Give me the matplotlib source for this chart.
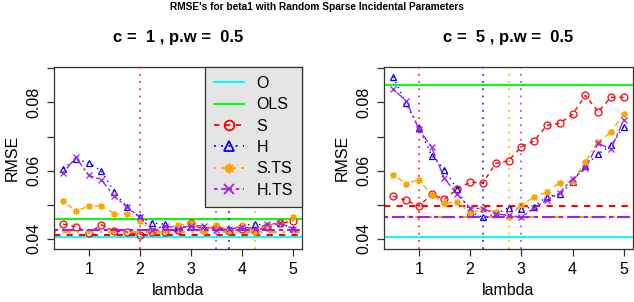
import matplotlib.pyplot as plt
from matplotlib.lines import Line2D

plt.rcParams['font.family'] = ['Liberation Sans', 'DejaVu Sans']

lam = [0.5, 0.75, 1.0, 1.25, 1.5, 1.75, 2.0, 2.25, 2.5, 2.75, 3.0,
       3.25, 3.5, 3.75, 4.0, 4.25, 4.5, 4.75, 5.0]

# panel 1: c = 1
o_1 = 0.0406
ols_1 = 0.0458
s_1 = [0.0443, 0.0435, 0.0417, 0.0441, 0.0422, 0.0420, 0.0411, 0.0420, 0.0420, 0.0425,
       0.0445, 0.0425, 0.0435, 0.0422, 0.0428, 0.0422, 0.0435, 0.0445, 0.0452]
h_1 = [0.0606, 0.0633, 0.0623, 0.0599, 0.0537, 0.0493, 0.0463, 0.0447, 0.0442, 0.0432,
       0.0438, 0.0430, 0.0435, 0.0425, 0.0438, 0.0444, 0.0438, 0.0446, 0.0430]
sts_1 = [0.0510, 0.0481, 0.0496, 0.0496, 0.0474, 0.0474, 0.0451, 0.0424, 0.0427, 0.0440,
         0.0445, 0.0424, 0.0441, 0.0424, 0.0441, 0.0421, 0.0440, 0.0445, 0.0465]
hts_1 = [0.0594, 0.0639, 0.0586, 0.0573, 0.0525, 0.0493, 0.0463, 0.0427, 0.0438, 0.0430,
         0.0438, 0.0438, 0.0425, 0.0428, 0.0435, 0.0430, 0.0442, 0.0446, 0.0430]

# panel 2: c = 5
o_2 = 0.0406
ols_2 = 0.0852
s_2 = [0.0525, 0.0513, 0.0496, 0.0530, 0.0516, 0.0546, 0.0566, 0.0564, 0.0621, 0.0629,
       0.0670, 0.0687, 0.0733, 0.0739, 0.0765, 0.0821, 0.0773, 0.0815, 0.0815]
h_2 = [0.0875, 0.0797, 0.0726, 0.0644, 0.0603, 0.0545, 0.0479, 0.0463, 0.0473, 0.0491,
       0.0488, 0.0494, 0.0524, 0.0530, 0.0567, 0.0614, 0.0649, 0.0674, 0.0729]
sts_2 = [0.0588, 0.0562, 0.0573, 0.0529, 0.0504, 0.0509, 0.0475, 0.0486, 0.0479, 0.0465,
         0.0498, 0.0523, 0.0537, 0.0565, 0.0567, 0.0626, 0.0685, 0.0712, 0.0767]
hts_2 = [0.0839, 0.0805, 0.0722, 0.0668, 0.0577, 0.0530, 0.0491, 0.0488, 0.0473, 0.0469,
         0.0463, 0.0491, 0.0514, 0.0535, 0.0576, 0.0607, 0.0680, 0.0663, 0.0749]

titles = ['c =  1 , p.w =  0.5', 'c =  5 , p.w =  0.5']

RED, BLUE, ORANGE, PURPLE = '#FF0000', '#0000FF', '#FFA500', '#A020F0'
CYAN, GREEN = '#00FFFF', '#00FF00'

styles = {
    'S': dict(color=RED, ls=(0, (3, 3)), marker='o'),
    'H': dict(color=BLUE, ls=(0, (1, 3)), marker='^'),
    'S.TS': dict(color=ORANGE, ls=(0, (1, 3, 4, 3)), marker=(8, 2, 0)),
    'H.TS': dict(color=PURPLE, ls=(0, (2, 2, 6, 2)), marker='x'),
}

fig = plt.figure(figsize=(6.34, 3.02), dpi=100)
ax1 = fig.add_axes([54 / 634, 1 - 249 / 302, 248 / 634, 182 / 302])
ax2 = fig.add_axes([384 / 634, 1 - 249 / 302, 249 / 634, 182 / 302])


def draw(ax, o, ols, series, title, legend):
    ax.axhline(o, color=CYAN, lw=1.4)
    ax.axhline(ols, color=GREEN, lw=1.4)
    for name, vals in series.items():
        st = styles[name]
        ax.plot(lam, vals, color=st['color'], ls=st['ls'], lw=1.0,
                marker=st['marker'], ms=5, mfc='none', mew=0.9)
        # best value: horizontal line, and its lambda: vertical dotted line
        best = min(vals)
        ax.axhline(best, color=st['color'], ls=st['ls'], lw=1.5)
        ax.axvline(lam[vals.index(best)], color=st['color'], ls=(0, (1, 3)), lw=1.3, alpha=0.8)
    ax.set_xlim(0.32, 5.18)
    ax.set_ylim(0.037, 0.0904)
    ax.set_xticks([1, 2, 3, 4, 5])
    ax.set_yticks([0.04, 0.05, 0.06, 0.07, 0.08, 0.09])
    ax.set_yticklabels(['0.04', '', '0.06', '', '0.08', ''], rotation=90, va='center')
    ax.tick_params(labelsize=11.5, length=5, width=0.9, pad=4, color='#333333')
    for sp in ax.spines.values():
        sp.set_color('#333333')
        sp.set_linewidth(0.9)
    ax.set_xlabel('lambda', fontsize=11.5, labelpad=5)
    ax.set_ylabel('RMSE', fontsize=11.5, labelpad=5)
    ax.set_title(title, fontsize=12, fontweight='bold', pad=18)
    if legend:
        handles = [Line2D([], [], color=CYAN, lw=1.5),
                   Line2D([], [], color=GREEN, lw=1.5)]
        labels = ['O', 'OLS']
        for name in series:
            st = styles[name]
            handles.append(Line2D([], [], color=st['color'], ls=st['ls'], lw=1.3,
                                  marker=st['marker'], ms=7, mfc='none', mew=1.3))
            labels.append(name)
        leg = ax.legend(handles, labels, loc='upper right', borderaxespad=0,
                        fontsize=11.5, fancybox=False, framealpha=1,
                        facecolor='#E5E5E5', edgecolor='#333333',
                        handlelength=1.9, handletextpad=0.8, labelspacing=0.4,
                        borderpad=0.55, numpoints=1)
        leg.get_frame().set_linewidth(0.9)
        leg.set_zorder(5)


draw(ax1, o_1, ols_1, {'S': s_1, 'H': h_1, 'S.TS': sts_1, 'H.TS': hts_1}, titles[0], True)
draw(ax2, o_2, ols_2, {'S': s_2, 'H': h_2, 'S.TS': sts_2, 'H.TS': hts_2}, titles[1], False)

fig.text(0.5, 1 - 7 / 302, "RMSE's for beta1 with Random Sparse Incidental Parameters",
         ha='center', va='center', fontsize=7.3, fontweight='bold')

fig.savefig('out.png', dpi=100)
